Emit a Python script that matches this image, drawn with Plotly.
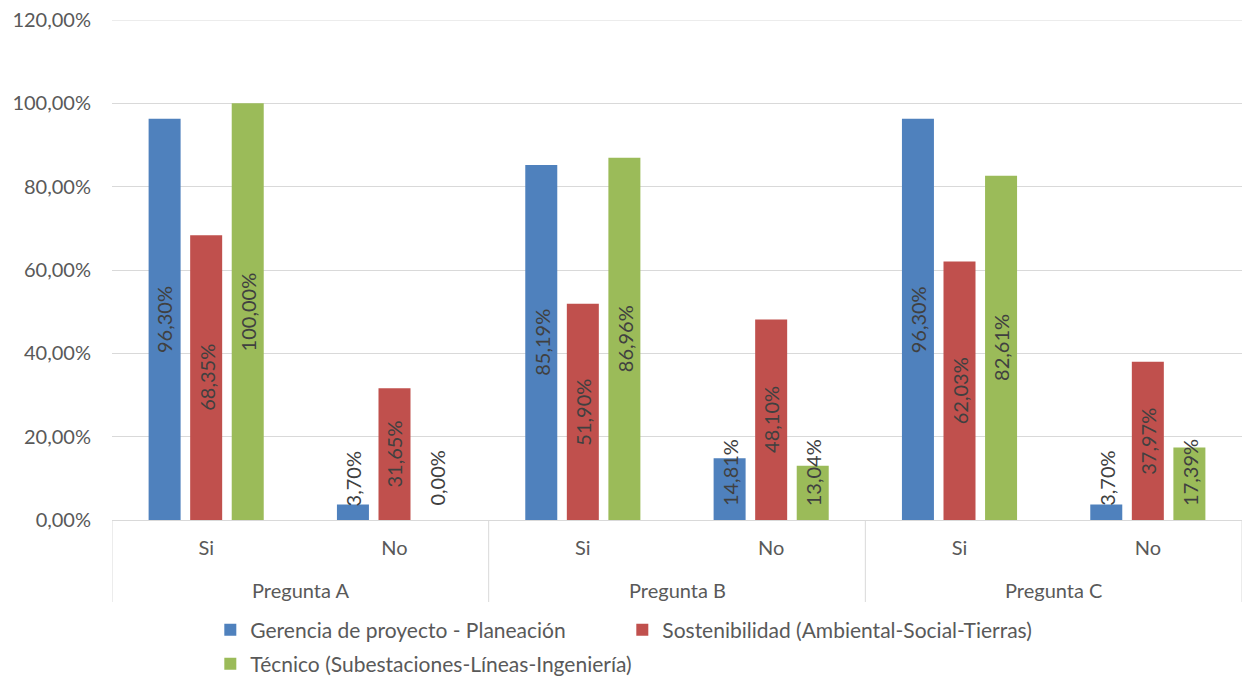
import plotly.graph_objects as go

# Categories (outer question, inner answer)
preguntas = ["Pregunta A", "Pregunta B", "Pregunta C"]
respuestas = ["Si", "No", "Si", "No", "Si", "No"]

# Series values (fractions)
gerencia = [0.9630, 0.0370, 0.8519, 0.1481, 0.9630, 0.0370]
sostenibilidad = [0.6835, 0.3165, 0.5190, 0.4810, 0.6203, 0.3797]
tecnico = [1.0000, 0.0000, 0.8696, 0.1304, 0.8261, 0.1739]

series = [
    ("Gerencia de proyecto - Planeación", gerencia, "#4f81bd", "legend"),
    ("Sostenibilidad (Ambiental-Social-Tierras)", sostenibilidad, "#c0504d", "legend"),
    ("Técnico (Subestaciones-Líneas-Ingeniería)", tecnico, "#9bbb59", "legend2"),
]

Y_MAX = 1.2
FONT = "Lato"
TXT = "#595959"
GRID = "#d9d9d9"
BARGAP = 0.338
GROUPGAP = 0.23
FS = 20

positions = list(range(len(respuestas)))

fig = go.Figure()
for name, vals, color, leg in series:
    fig.add_trace(go.Bar(
        name=name,
        x=positions,
        y=vals,
        marker=dict(color=color, line=dict(width=0)),
        legend=leg,
        hoverinfo="skip",
    ))


def fmt(v):
    return f"{v * 100:.2f}%".replace(".", ",")


annotations = []

# Value labels centred in each bar, kept above the baseline for short bars
slot = (1 - BARGAP) / len(series)
px_per_unit = 500 / Y_MAX
for si, (name, vals, color, leg) in enumerate(series):
    for ci, v in enumerate(vals):
        xpos = ci + (si - 1) * slot
        if v * px_per_unit / 2 < 46:
            ann = dict(x=xpos, y=0, yanchor="bottom", yshift=12)
        else:
            ann = dict(x=xpos, y=v / 2, yanchor="middle")
        ann.update(
            xref="x", yref="y", text=fmt(v), textangle=-90, showarrow=False,
            xanchor="center", font=dict(family=FONT, size=FS, color="#404040"),
        )
        annotations.append(ann)

# Outer category labels (one per pair of answers)
for gi, p in enumerate(preguntas):
    annotations.append(dict(
        x=2 * gi + 0.5, y=-0.14, xref="x", yref="paper", text=p, showarrow=False,
        xanchor="center", yanchor="middle", font=dict(family=FONT, size=FS, color=TXT),
    ))

# Group dividers below the axis, plus the gridline along the top edge
shapes = []
for b in [-0.5, 1.5, 3.5, 5.5]:
    shapes.append(dict(
        type="line", xref="x", yref="paper", x0=b, x1=b, y0=0, y1=-0.164,
        line=dict(color=GRID, width=1),
    ))
shapes.append(dict(
    type="line", xref="paper", yref="y", x0=0, x1=1, y0=Y_MAX, y1=Y_MAX,
    line=dict(color=GRID, width=1), layer="below",
))

fig.update_layout(
    width=1244, height=681,
    margin=dict(l=112, r=2, t=20, b=161, autoexpand=False),
    paper_bgcolor="white", plot_bgcolor="white",
    separators=",.",
    barmode="group", bargap=BARGAP, bargroupgap=GROUPGAP,
    font=dict(family=FONT, size=FS, color=TXT),
    showlegend=True,
    legend=dict(
        orientation="h", x=0.087, xanchor="left", y=-0.22, yanchor="middle",
        entrywidth=367, entrywidthmode="pixels", font=dict(size=21, color=TXT),
        itemclick=False, itemdoubleclick=False, bgcolor="rgba(0,0,0,0)",
    ),
    legend2=dict(
        orientation="h", x=0.087, xanchor="left", y=-0.288, yanchor="middle",
        font=dict(size=21, color=TXT),
        itemclick=False, itemdoubleclick=False, bgcolor="rgba(0,0,0,0)",
    ),
    yaxis=dict(
        range=[0, Y_MAX], tickvals=[0, 0.2, 0.4, 0.6, 0.8, 1.0, 1.2], tickformat=".2%",
        showgrid=True, gridcolor=GRID, gridwidth=1, zeroline=False,
        showline=False, ticks="", ticklabelstandoff=20, automargin=False,
        tickfont=dict(family=FONT, size=FS, color=TXT),
    ),
    xaxis=dict(
        range=[-0.5, 5.5], tickvals=positions, ticktext=respuestas,
        showline=True, linecolor=GRID, linewidth=1, showgrid=False, zeroline=False,
        ticks="", ticklabelstandoff=10, automargin=False,
        tickfont=dict(family=FONT, size=FS, color=TXT),
    ),
    shapes=shapes,
    annotations=annotations,
)

fig.write_html("out.html")
